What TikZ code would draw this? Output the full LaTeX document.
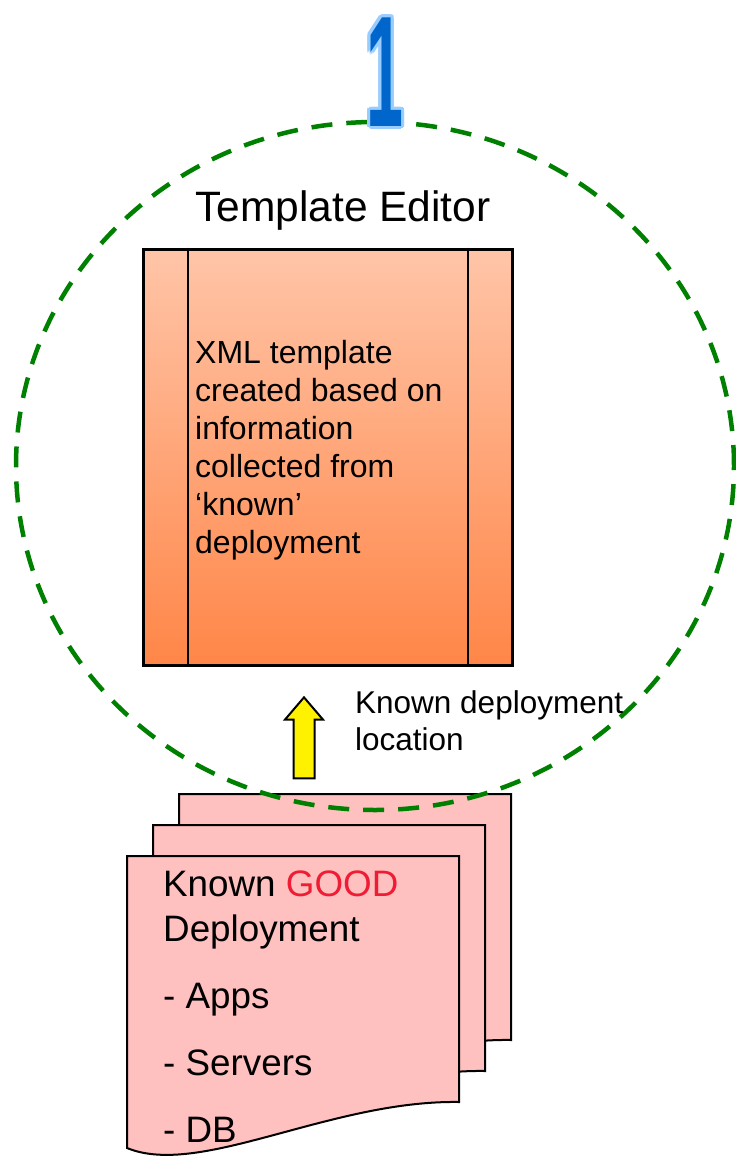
\documentclass[tikz,border=0pt]{standalone}
\usepackage{fontspec}
\setmainfont{Liberation Sans}
\usepackage{xcolor}
\usepackage{tikz}
\usetikzlibrary{shapes.arrows}
\definecolor{ringgreen}{RGB}{0,128,0}
\definecolor{pagepink}{RGB}{255,192,192}
\definecolor{tpltop}{RGB}{255,197,168}
\definecolor{tplbot}{RGB}{255,134,72}
\definecolor{goodred}{RGB}{240,28,52}
\definecolor{numblue}{RGB}{0,102,204}
\definecolor{numedge}{RGB}{153,204,255}

\begin{document}
\begin{tikzpicture}[x=1pt,y=-1pt,
  ring/.style={draw=ringgreen,line width=4.5pt,dash pattern=on 21pt off 14pt},
  tplbox/.style={draw,line width=3pt,top color=tpltop,bottom color=tplbot,minimum width=369pt,minimum height=416pt,inner sep=0},
  page/.style={draw,line width=2pt,fill=pagepink},
  txt/.style={inner sep=0,align=left},
  digit/.style={font=\bfseries\fontsize{158}{158}\selectfont,xscale=.42,inner sep=0,anchor=base}]
\useasboundingbox (0,0) rectangle (736,1162);

\foreach \dx/\dy in {52/-62,26/-31,0/0}
  \draw[page,shift={(\dx,\dy)}] (127,856) -- (459,856) -- (459,1102) .. controls (330,1100) and (200,1178) .. (127,1148) -- cycle;
\node[txt,anchor=north west,font=\fontsize{36.8}{45}\selectfont] (good) at (163,870.5) {Known \textcolor{goodred}{GOOD}\\Deployment\\[22pt]- Apps\\[22pt]- Servers\\[22pt]- DB};

\draw[ring] (375,466) ellipse [x radius=359pt, y radius=344pt];

\node[tplbox] (tpl) at (327.5,457) {};
\draw[line width=2pt] ([xshift=46pt]tpl.north west) -- ([xshift=46pt]tpl.south west);
\draw[line width=2pt] ([xshift=-46pt]tpl.north east) -- ([xshift=-46pt]tpl.south east);
\node[txt,anchor=north west,font=\fontsize{32}{38}\selectfont] (tpltext) at (195,340) {XML template\\created based on\\information\\collected from\\‘known’\\deployment};
\node[inner sep=0,anchor=base west,font=\fontsize{42.5}{42.5}\selectfont] (title) at (195,221) {Template Editor};

\node[draw,line width=2pt,fill=yellow,single arrow,rotate=90,minimum height=81pt,single arrow head extend=8.5pt,single arrow tip angle=81,single arrow head indent=0pt,inner xsep=0pt,inner ysep=9.5pt] (up) at (304,744) {};
\node[txt,anchor=north west,font=\fontsize{31.5}{37}\selectfont] (loc) at (355,690.5) {Known deployment\\location};

\foreach \a in {0,30,...,330}
  \node[digit,text=numedge] at ([shift={(\a:3pt)}]385,126) {1};
\node[digit,text=numblue] (one) at (385,126) {1};
\end{tikzpicture}
\end{document}
